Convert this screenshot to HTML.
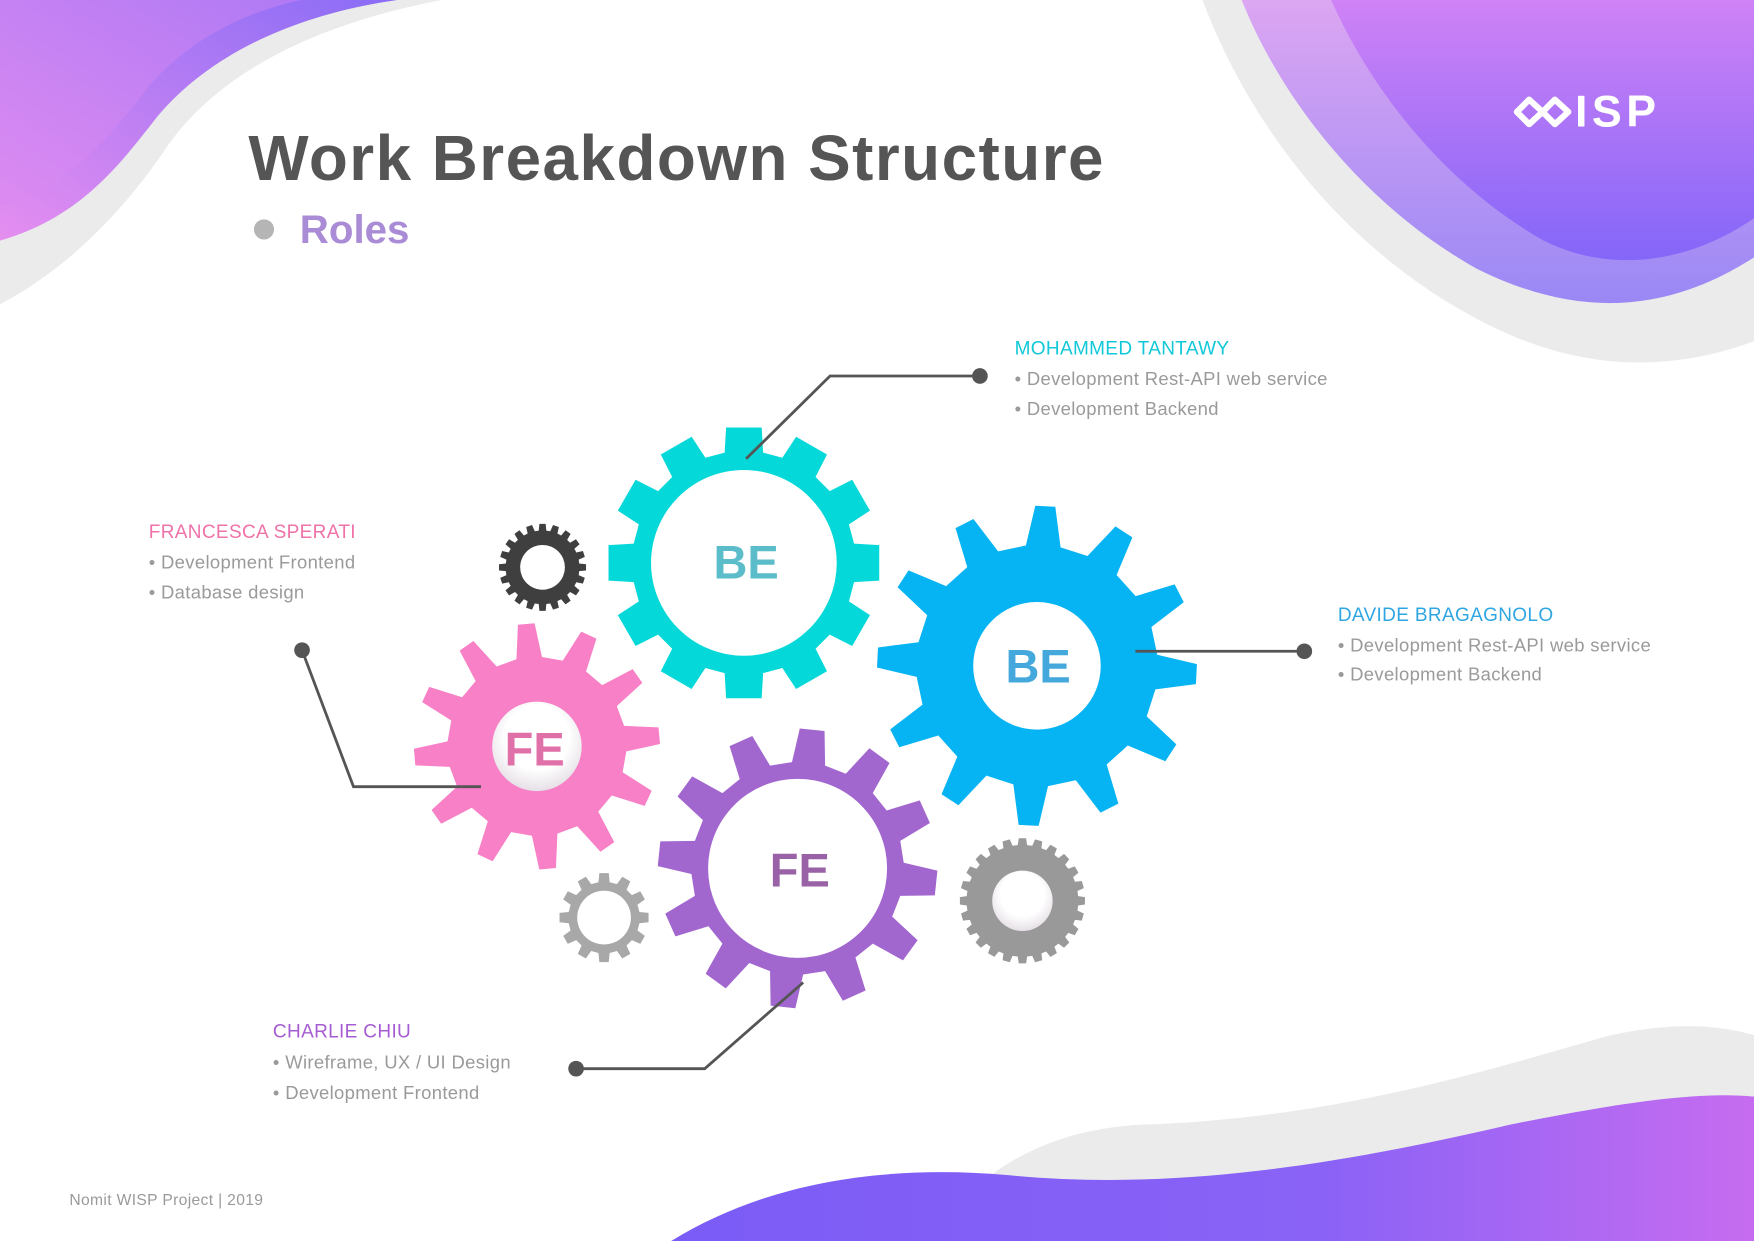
<!DOCTYPE html>
<html><head><meta charset="utf-8"><style>
html,body{margin:0;padding:0;background:#fff;}
svg{display:block;}
</style></head><body>
<svg id="s" width="1754" height="1241" viewBox="0 0 1568 1109" preserveAspectRatio="none" xmlns="http://www.w3.org/2000/svg">
<defs>
<linearGradient id="tl" x1="0" y1="1" x2="1" y2="0"><stop offset="0" stop-color="#e58ef0"/><stop offset="1" stop-color="#8a6cf6"/></linearGradient>
<linearGradient id="tr" x1="0" y1="0" x2="0" y2="1"><stop offset="0" stop-color="#cf82f6"/><stop offset="1" stop-color="#8466f8"/></linearGradient>
<linearGradient id="tr2" x1="0" y1="0" x2="0" y2="1"><stop offset="0" stop-color="#dca6f2"/><stop offset="1" stop-color="#9a88f5"/></linearGradient>
<linearGradient id="br" x1="0" y1="0" x2="1" y2="0"><stop offset="0" stop-color="#7b5cf6"/><stop offset="0.6" stop-color="#8a62f6"/><stop offset="1" stop-color="#c66cf0"/></linearGradient>
<radialGradient id="hole" cx="0.5" cy="0.4" r="0.6"><stop offset="0.6" stop-color="#fff"/><stop offset="1" stop-color="#e6e0e6"/></radialGradient>
</defs>
<path d="M0 272 C60 240 110 190 150 130 C200 60 290 20 395 0 L0 0 Z" fill="#ebebeb"/>
<path d="M0 215 C70 195 105 150 140 105 C190 45 270 12 355 0 L0 0 Z" fill="url(#tl)"/>
<path d="M0 185 C60 170 100 120 135 75 C170 35 220 10 270 0 L0 0 Z" fill="#d98af2" opacity="0.4"/>
<path d="M1075 0 C1120 120 1210 230 1330 290 C1420 335 1500 330 1568 305 L1568 0 Z" fill="#ebebeb"/>
<path d="M1110 0 C1150 100 1230 190 1320 240 C1410 285 1490 280 1568 230 L1568 0 Z" fill="url(#tr2)"/>
<path d="M1190 0 C1230 90 1300 170 1380 215 C1440 245 1510 235 1568 195 L1568 0 Z" fill="url(#tr)"/>
<g fill="none" stroke="#fff" stroke-width="5.5" stroke-linejoin="round">
<path d="M1356 100 L1367 89 L1379 100 L1367 111 Z"/>
<path d="M1379 100 L1390 89 L1402 100 L1390 111 Z"/>
</g>
<text x="1408" y="113" fill="#fff" font-family="Liberation Sans, sans-serif" font-weight="bold" font-size="40" letter-spacing="4">ISP</text>
<path d="M830 1109 C870 1050 930 1010 1020 1005 C1200 1000 1350 950 1440 925 C1510 910 1550 920 1568 925 L1568 1109 Z" fill="#ebebeb"/>
<path d="M600 1109 C680 1060 780 1040 900 1050 C1050 1065 1200 1040 1350 1005 C1450 985 1520 975 1568 980 L1568 1109 Z" fill="url(#br)"/>
<text x="222" y="161" fill="#555" font-family="Liberation Sans, sans-serif" font-weight="bold" font-size="57" letter-spacing="1.5" textLength="766">Work Breakdown Structure</text>
<circle cx="236" cy="205" r="9" fill="#b5b5b5"/>
<text x="268" y="217" fill="#a98bd6" font-family="Liberation Sans, sans-serif" font-weight="bold" font-size="36">Roles</text>
<g id="gears"></g>
<g stroke="#555" stroke-width="2.5" fill="none">
<polyline points="667,410 742,336 876,336"/>
<polyline points="1015,582 1166,582"/>
<polyline points="270,581 316,703 430,703"/>
<polyline points="515,955 630,955 718,878"/>
</g>
<g fill="#555"><circle cx="876" cy="336" r="7"/><circle cx="1166" cy="582" r="7"/><circle cx="270" cy="581" r="7"/><circle cx="515" cy="955" r="7"/></g>
<g font-family="Liberation Sans, sans-serif" font-size="16.5" fill="#9a9a9a" letter-spacing="0.3">
<text x="907" y="317" fill="#11c8d8" font-size="17">MOHAMMED TANTAWY</text>
<text x="907" y="344">• Development Rest-API web service</text>
<text x="907" y="371">• Development Backend</text>
<text x="133" y="481" fill="#ef72a8" font-size="17">FRANCESCA SPERATI</text>
<text x="133" y="508">• Development Frontend</text>
<text x="133" y="535">• Database design</text>
<text x="1196" y="555" fill="#2fa6e2" font-size="17">DAVIDE BRAGAGNOLO</text>
<text x="1196" y="582">• Development Rest-API web service</text>
<text x="1196" y="608">• Development Backend</text>
<text x="244" y="927" fill="#a65cd2" font-size="17">CHARLIE CHIU</text>
<text x="244" y="955">• Wireframe, UX / UI Design</text>
<text x="244" y="982">• Development Frontend</text>
<text x="62" y="1077" font-size="14">Nomit WISP Project  |  2019</text>
</g>
</svg>
<script>
function gear(cx,cy,n,ro,ri,tipW,baseW,rot,fill,hole,holeFill){
  var d="",step=2*Math.PI/n;
  for(var i=0;i<n;i++){
    var a=rot*Math.PI/180+i*step;
    var pts=[[ri,a-baseW*step/2],[ro,a-tipW*step/2],[ro,a+tipW*step/2],[ri,a+baseW*step/2],[ri,a+step-baseW*step/2]];
    for(var j=0;j<pts.length;j++){
      var x=cx+pts[j][0]*Math.cos(pts[j][1]),y=cy+pts[j][0]*Math.sin(pts[j][1]);
      d+=(i==0&&j==0?"M":"L")+x.toFixed(1)+" "+y.toFixed(1)+" ";
    }
  }
  d+="Z";
  var s='<path d="'+d+'" fill="'+fill+'"/>';
  s+='<circle cx="'+cx+'" cy="'+cy+'" r="'+hole+'" fill="'+(holeFill||"#fff")+'"/>';
  return s;
}
var g="";
g+=gear(665,503,12,122,100,0.5,0.66,-90,"#05d8d9",83);
g+=gear(927,595,12,143,108,0.24,0.55,-87,"#06b3f3",57);
g+=gear(480,667,12,110,80,0.26,0.55,-95,"#f780c6",40,"url(#hole)");
g+=gear(713,776,12,125,95,0.34,0.6,-84,"#a266cf",80);
g+=gear(485,507,20,39,33,0.45,0.65,0,"#3f3f3f",20);
g+=gear(540,820,12,40,32,0.4,0.6,-90,"#a8a8a8",24);
g+=gear(914,805,24,56,50,0.45,0.65,0,"#999",27,"url(#hole)");
var t='<g font-family="Liberation Sans, sans-serif" font-weight="bold" font-size="42" text-anchor="middle">';
t+='<text x="667" y="517" fill="#5bbdc9">BE</text>';
t+='<text x="928" y="610" fill="#44a8dc">BE</text>';
t+='<text x="478" y="684" fill="#e070a8">FE</text>';
t+='<text x="715" y="792" fill="#9a62a6">FE</text></g>';
document.getElementById("gears").innerHTML=g+t;
</script>
</body></html>
